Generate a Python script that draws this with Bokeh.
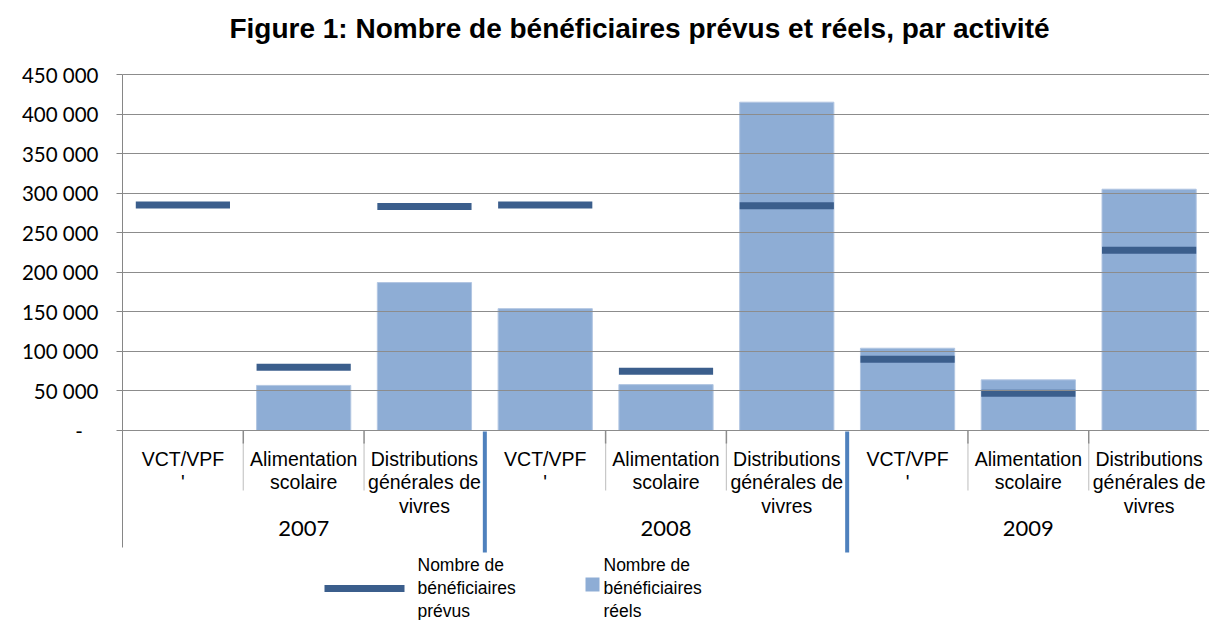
from bokeh.plotting import figure
from bokeh.models import Range1d, FixedTicker
from bokeh.core.properties import value
from bokeh.embed import file_html
from bokeh.resources import INLINE

# ---------------- data ----------------
title = "Figure 1: Nombre de bénéficiaires prévus et réels, par activité"
years = ["2007", "2008", "2009"]
activities = ["VCT/VPF\n'", "Alimentation\nscolaire", "Distributions\ngénérales de\nvivres"]
reels = [0, 57000, 187000, 154000, 58000, 415000, 104000, 64000, 305000]
prevus = [285000, 80000, 283000, 285000, 75000, 284000, 90000, 47000, 228000]
y_ticks = [0, 50000, 100000, 150000, 200000, 250000, 300000, 350000, 400000, 450000]
y_tick_labels = ["-\u00a0\u00a0\u00a0", "50 000", "100 000", "150 000", "200 000",
                 "250 000", "300 000", "350 000", "400 000", "450 000"]
legend_labels = ["Nombre de\nbénéficiaires\nprévus", "Nombre de\nbénéficiaires\nréels"]

# ---------------- layout helpers (screen pixels -> data) ----------------
W, H = 1209, 620
LEFT = 122
Y0_PX, YTOP_PX = 430, 74
k = (Y0_PX - YTOP_PX) / y_ticks[-1]
n_cat = len(years) * len(activities)
cat_w = (W - LEFT) / n_cat


def py(y_px):
    return (Y0_PX - y_px) / k


def px(x_px):
    return (x_px - LEFT) / cat_w


BAR_COLOR = "#8EADD5"
PLAN_COLOR = "#3B5E8C"

p = figure(width=W, height=H, output_backend="svg", toolbar_location=None,
           x_range=Range1d(0, n_cat), y_range=Range1d(py(H), py(0)),
           x_axis_location=None, min_border_left=LEFT, min_border_right=0,
           min_border_top=0, min_border_bottom=0)
p.outline_line_color = None
p.background_fill_color = "white"
p.border_fill_color = "white"

# y axis
ax = p.yaxis[0]
ax.ticker = FixedTicker(ticks=y_ticks)
ax.major_label_overrides = {t: l for t, l in zip(y_ticks, y_tick_labels)}
ax.bounds = (py(547), y_ticks[-1])
ax.axis_line_color = "#868686"
ax.major_tick_line_color = "#868686"
ax.major_tick_out = 6
ax.major_tick_in = 0
ax.minor_tick_line_color = None
ax.major_label_text_font = "Lato"
ax.major_label_text_font_size = "20.5px"
ax.major_label_text_color = "#000000"
ax.major_label_standoff = 18

for g in p.ygrid:
    g.ticker = FixedTicker(ticks=y_ticks)
    g.grid_line_color = "#8C8C8C"
    g.grid_line_width = 1.2
    g.level = "overlay"
for g in p.xgrid:
    g.visible = False

centers = [i + 0.5 for i in range(n_cat)]

# bars (réels) and dashes (prévus)
p.vbar(x=centers, top=reels, bottom=0, width=0.78, fill_color=BAR_COLOR,
       line_color="#B2C6E2", line_width=1)
p.rect(x=centers, y=prevus, width=0.78, height=7, height_units="screen",
       fill_color=PLAN_COLOR, line_color=None)

# category axis separators
inner = [g * len(activities) + j for g in range(len(years)) for j in range(1, len(activities))]
outer = [g * len(activities) for g in range(1, len(years))]
p.segment(x0=inner, y0=[py(442)] * len(inner), x1=inner, y1=[py(490)] * len(inner),
          line_color="#C8C8C8", line_width=1.2)
p.segment(x0=inner, y0=[0] * len(inner), x1=inner, y1=[py(443)] * len(inner),
          line_color="#8C8C8C", line_width=1.5)
p.segment(x0=outer, y0=[py(431)] * len(outer), x1=outer, y1=[py(552)] * len(outer),
          line_color="#4F81BD", line_width=4)

# category labels
p.text(x=centers, y=[py(447)] * n_cat, text=activities * len(years),
       text_align="center", text_baseline="top", text_font=value("Liberation Sans"),
       text_font_size="19.5px", text_line_height=1.09, text_color="#000000")
year_x = [g * len(activities) + len(activities) / 2 for g in range(len(years))]
p.text(x=year_x, y=[py(528)] * len(years), text=years, text_align="center",
       text_baseline="middle", text_font=value("Lato"), text_font_size="22px",
       text_color="#000000")

# title
p.text(x=[px(639)], y=[py(28)], text=[title], text_align="center", text_baseline="middle",
       text_font=value("Liberation Sans"), text_font_style="bold", text_font_size="28px",
       text_color="#000000")

# legend
p.segment(x0=[px(324)], y0=[py(588)], x1=[px(404)], y1=[py(588)],
          line_color=PLAN_COLOR, line_width=7)
p.rect(x=[px(592)], y=[py(584)], width=14, height=14, width_units="screen",
       height_units="screen", fill_color=BAR_COLOR, line_color=None)
p.text(x=[px(417), px(603)], y=[py(554)] * 2, text=legend_labels, text_align="left",
       text_baseline="top", text_font=value("Liberation Sans"), text_font_size="17.5px",
       text_line_height=1.15, text_color="#000000")

open("out.html", "w").write(file_html(p, INLINE))
